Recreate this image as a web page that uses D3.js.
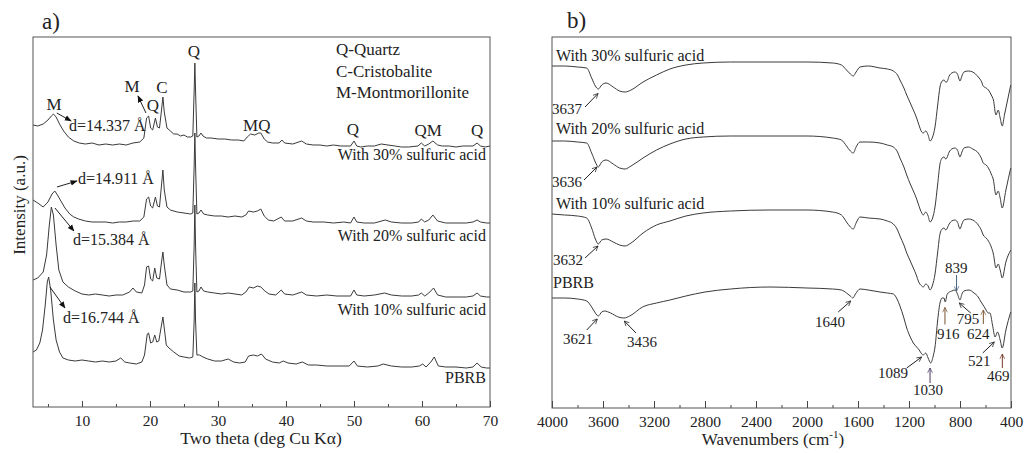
<!DOCTYPE html>
<html>
<head>
<meta charset="utf-8">
<script src="https://cdnjs.cloudflare.com/ajax/libs/d3/7.8.5/d3.min.js"></script>
<style>
  body { margin: 0; background: #fff; }
  text { font-family: "Liberation Serif", "Times New Roman", serif; fill: #222; }
</style>
</head>
<body>
<svg id="chart" width="1025" height="453"></svg>
<script>
// ---------- XRD data (two theta, intensity a.u., stacked) ----------
const xrd30 = [[2.8,28.2],[3.5,28.1],[4.3,28.3],[5.0,28.7],[5.5,29.1],[5.8,29.3],[6.2,29.0],[6.7,28.3],[7.3,27.6],[8.0,27.0],[8.8,26.6],[9.6,26.4],[10.5,26.3],[11.5,26.4],[12.5,26.2],[13.5,26.3],[14.5,26.2],[15.5,26.3],[16.5,26.2],[17.5,26.4],[18.5,26.5],[19.1,26.9],[19.5,28.9],[19.8,29.1],[20.1,27.9],[20.4,27.7],[20.8,28.9],[21.1,28.0],[21.4,27.9],[21.7,29.7],[21.9,31.0],[22.1,29.5],[22.5,27.9],[23.0,27.6],[23.5,27.3],[24.0,27.3],[24.5,27.1],[25.0,27.2],[25.5,27.0],[26.0,27.0],[26.3,27.1],[26.5,31.7],[26.6,34.4],[26.7,31.7],[26.9,27.0],[27.2,27.1],[27.5,27.4],[27.8,27.1],[28.3,26.9],[29,26.9],[30,26.8],[31,26.8],[32,26.7],[33,26.7],[33.8,26.6],[34.3,27.0],[34.8,27.3],[35.4,27.2],[36.0,27.4],[36.3,27.4],[36.8,26.8],[37.3,26.5],[38,26.4],[39,26.4],[39.4,26.7],[39.8,26.4],[41,26.3],[42.3,26.6],[43,26.3],[44,26.2],[45,26.2],[46,26.1],[47,26.2],[48,26.1],[49.5,26.1],[50.0,26.6],[50.4,26.1],[51,26.0],[52,26.1],[53,26.1],[54,26.3],[55,26.2],[56,26.1],[57,26.0],[58,26.0],[59.4,26.1],[59.9,26.4],[60.4,26.1],[61,26.3],[61.6,26.6],[62.3,26.2],[63,26.1],[64,26.1],[65,26.0],[66,26.1],[67.5,26.1],[68.1,26.4],[68.6,26.1],[69.3,26.0],[70,26.1]];
const xrd20 = [[2.8,20.7],[3.5,20.4],[4.3,20.0],[5.0,20.5],[5.6,21.3],[6.0,21.6],[6.4,21.2],[6.9,20.6],[7.5,19.9],[8.2,19.3],[8.8,19.0],[9.5,18.8],[10.5,18.6],[11.5,18.5],[12.5,18.5],[13.5,18.5],[14.5,18.4],[15.5,18.5],[16.5,18.5],[17.5,18.6],[18.5,18.6],[19.1,19.0],[19.5,20.8],[19.8,21.0],[20.1,20.1],[20.4,19.9],[20.8,21.0],[21.1,20.1],[21.4,20.0],[21.7,22.2],[21.9,23.7],[22.1,21.7],[22.5,20.0],[23.0,19.7],[24,19.5],[25,19.4],[26,19.3],[26.3,19.4],[26.5,24.2],[26.6,27.4],[26.7,24.2],[26.9,19.3],[27.2,19.4],[27.5,19.7],[27.9,19.3],[28.5,19.2],[29.5,19.1],[30.5,19.1],[31.5,19.0],[32.5,19.1],[33.5,19.0],[34.1,19.2],[34.5,19.6],[35.2,19.5],[35.8,19.6],[36.3,19.8],[36.8,19.1],[37.4,18.7],[38.2,18.6],[39.3,19.0],[39.8,18.6],[41,18.6],[42.3,18.9],[43,18.6],[44,18.5],[45.5,18.5],[47,18.4],[48.5,18.5],[49.5,18.4],[50,19.0],[50.4,18.5],[51.5,18.4],[53,18.4],[54.6,18.7],[55.5,18.5],[57,18.4],[58.5,18.4],[59.5,18.5],[59.9,18.8],[60.4,18.5],[61,18.7],[61.6,19.2],[62.3,18.6],[63.5,18.4],[65,18.4],[66.5,18.4],[67.5,18.5],[68.1,18.7],[68.6,18.5],[69.5,18.4],[70,18.4]];
const xrd10 = [[2.8,12.7],[3.5,12.9],[4.3,13.5],[4.8,15.2],[5.2,18.2],[5.5,20.0],[5.8,19.2],[6.2,16.2],[6.6,13.7],[7.2,12.5],[8.0,12.0],[9.0,11.6],[10,11.3],[11,11.2],[12,11.3],[13,11.2],[14,11.1],[15,11.2],[16,11.2],[17,11.5],[17.5,11.9],[18,11.5],[18.8,11.4],[19.2,12.2],[19.5,14.0],[19.8,14.1],[20.1,12.8],[20.4,12.6],[20.7,13.9],[21.0,12.9],[21.4,12.8],[21.7,14.5],[21.9,15.5],[22.1,14.2],[22.5,12.2],[23,11.8],[24,11.7],[25,11.5],[26,11.5],[26.3,11.6],[26.5,16.2],[26.6,20.2],[26.7,16.2],[26.9,11.5],[27.2,11.6],[27.5,12.0],[27.9,11.6],[28.5,11.5],[29.5,11.4],[30.5,11.3],[31.5,11.4],[32.5,11.3],[33.5,11.2],[34.1,11.5],[34.6,12.0],[35.2,11.9],[35.8,12.1],[36.3,12.0],[36.9,11.6],[37.5,11.3],[38.5,11.2],[39.3,11.7],[39.8,11.3],[41,11.2],[42.3,11.5],[43,11.2],[44.5,11.1],[46,11.2],[47.5,11.1],[49.5,11.1],[50,11.7],[50.4,11.2],[51.5,11.1],[53,11.2],[54.5,11.4],[55.5,11.2],[57,11.1],[58.5,11.1],[59.5,11.2],[59.9,11.4],[60.4,11.1],[61,11.4],[61.7,11.9],[62.3,11.2],[63.5,11.0],[65,11.0],[66.5,11.0],[67.5,11.1],[68.1,11.4],[68.6,11.1],[69.5,11.0],[70,11.0]];
const xrdPBRB = [[2.8,5.5],[3.3,5.7],[3.8,6.4],[4.2,7.7],[4.6,10.2],[4.9,12.5],[5.1,13.0],[5.4,11.7],[5.8,8.7],[6.2,6.7],[6.7,5.5],[7.2,4.9],[8,4.7],[9,4.6],[10,4.7],[11,4.6],[12,4.5],[13,4.6],[14,4.5],[15,4.6],[15.7,4.9],[16.3,4.5],[17,4.4],[18,4.3],[18.8,4.5],[19.2,5.2],[19.6,7.3],[19.8,7.4],[20.1,6.4],[20.4,6.5],[20.7,7.2],[21.0,6.5],[21.3,6.6],[21.7,8.2],[21.9,9.0],[22.1,7.9],[22.4,6.2],[22.8,5.9],[23.5,5.5],[24.3,5.1],[25,5.0],[25.8,4.9],[26.3,5.0],[26.5,8.7],[26.6,12.4],[26.7,8.7],[26.9,5.2],[27.3,5.2],[27.8,5.0],[28.5,4.8],[29.5,4.6],[30.5,4.6],[31.5,4.8],[32.3,4.5],[33.2,4.4],[34,4.5],[34.5,5.1],[35.2,5.2],[35.8,5.1],[36.4,5.3],[37,4.8],[38,4.5],[39,4.4],[39.6,4.6],[40.3,4.4],[41.5,4.3],[42.4,4.5],[43.3,4.2],[44.5,4.2],[46,4.1],[47.5,4.1],[49.3,4.1],[50,4.6],[50.5,4.1],[52,4.0],[53.5,4.1],[54.3,4.3],[55.5,4.1],[57,4.0],[58.5,4.0],[59.6,4.1],[60.1,4.3],[60.6,4.0],[61.3,4.5],[61.8,5.0],[62.4,4.1],[63.5,4.0],[65,4.0],[66.5,3.9],[67.5,4.0],[68.1,4.4],[68.7,4.0],[69.5,3.9],[70,3.9]];
const xrdSeries = [xrd30, xrd20, xrd10, xrdPBRB];
const xrdNames = ["With 30% sulfuric acid", "With 20% sulfuric acid", "With 10% sulfuric acid", "PBRB"];
const xrdNameLevel = [24.7, 16.6, 9.2, 2.4];
const xrdTicks = [10, 20, 30, 40, 50, 60, 70];
const xrdMinorTicks = [5, 15, 25, 35, 45, 55, 65];
const xrdLegend = ["Q-Quartz", "C-Cristobalite", "M-Montmorillonite"];
// peak letters: [label, two theta, level]
const xrdPeakLabels = [["M",5.88,29.7],["M",17.35,31.5],["Q",20.44,29.6],["C",21.76,31.4],["Q",26.47,35.0],["MQ",35.7,27.6],["Q",49.85,27.2],["QM",60.9,27.1],["Q",68.1,27.1]];
// basal spacing notes: [label, two theta, level]
const xrdSpacings = [["d=14.337 Å",8.09,27.6],["d=14.911 Å",9.41,22.3],["d=15.384 Å",8.68,16.2],["d=16.744 Å",7.21,8.4]];
const xrdArrows = [[6.3,29.4,8.4,28.6],[19.41,29.4,18.24,31.1],[6.32,22.0,9.26,22.6],[6.03,19.9,8.82,17.6],[5.29,12.0,7.5,9.9]];

// ---------- FTIR data (wavenumber, transmittance a.u., stacked) ----------
const ir30 = [[4000,34.2],[3900,34.2],[3800,34.1],[3728,34.0],[3689,33.0],[3660,32.2],[3637,31.9],[3610,32.3],[3576,32.5],[3520,32.1],[3470,31.7],[3427,31.6],[3380,31.8],[3286,32.6],[3180,33.3],[3075,33.9],[2950,34.3],[2815,34.5],[2600,34.6],[2290,34.6],[2000,34.6],[1800,34.5],[1730,34.3],[1690,33.8],[1660,33.4],[1637,33.2],[1615,33.6],[1584,34.1],[1520,34.2],[1427,34.0],[1370,33.9],[1323,33.7],[1290,33.3],[1271,32.8],[1240,32.0],[1218,31.3],[1190,30.5],[1166,29.8],[1140,29.0],[1127,28.5],[1100,27.6],[1088,27.5],[1069,27.7],[1050,27.3],[1035,26.7],[1015,27.1],[996,28.1],[975,30.3],[957,32.1],[940,32.7],[925,32.8],[912,32.6],[904,32.6],[885,33.2],[865,33.5],[840,33.6],[820,33.4],[800,32.7],[785,33.2],[769,33.6],[735,33.7],[700,33.6],[657,33.1],[630,32.6],[618,32.2],[595,32.0],[577,31.8],[555,31.3],[538,30.8],[518,29.3],[500,29.8],[485,29.0],[469,28.2],[450,29.4],[430,30.6],[402,32.3]];
const ir20 = [[4000,26.7],[3900,26.7],[3800,26.6],[3728,26.5],[3689,25.5],[3660,24.6],[3637,24.1],[3610,24.6],[3576,24.8],[3520,24.4],[3470,24.0],[3427,23.9],[3380,24.2],[3286,25.0],[3180,25.8],[3075,26.4],[2950,26.9],[2815,27.1],[2600,27.2],[2290,27.2],[2000,27.2],[1800,27.0],[1730,26.8],[1690,26.2],[1660,25.7],[1637,25.5],[1615,26.1],[1584,26.6],[1520,26.6],[1427,26.5],[1370,26.3],[1323,26.1],[1290,25.6],[1271,25.0],[1240,24.1],[1218,23.3],[1190,22.4],[1166,21.7],[1140,20.9],[1127,20.4],[1100,19.5],[1088,19.3],[1069,19.6],[1050,19.2],[1035,18.6],[1015,19.0],[996,20.1],[975,22.4],[957,24.4],[940,25.0],[925,25.1],[912,24.9],[904,25.0],[885,25.6],[865,25.9],[840,26.0],[820,25.8],[800,25.1],[785,25.6],[769,26.0],[735,26.1],[700,25.9],[657,25.5],[630,24.9],[618,24.5],[595,24.3],[577,24.0],[555,23.4],[538,22.8],[518,21.3],[500,21.7],[485,21.0],[469,20.0],[440,21.8],[402,24.0]];
const ir10 = [[4000,19.4],[3900,19.3],[3800,19.2],[3728,19.0],[3689,18.0],[3660,16.9],[3637,16.4],[3610,16.8],[3576,16.9],[3520,16.6],[3470,16.3],[3427,16.2],[3380,16.5],[3286,17.5],[3180,18.3],[3075,18.7],[2950,19.2],[2815,19.5],[2600,19.7],[2290,19.8],[2000,19.8],[1800,19.6],[1730,19.3],[1690,18.6],[1660,18.1],[1637,17.9],[1615,18.5],[1584,19.1],[1520,19.0],[1427,18.9],[1370,18.7],[1323,18.4],[1290,17.8],[1271,17.2],[1240,16.3],[1218,15.5],[1190,14.7],[1166,14.0],[1140,13.2],[1127,12.7],[1100,12.2],[1088,12.1],[1069,12.4],[1050,12.2],[1035,11.8],[1015,12.3],[996,13.4],[975,15.6],[957,17.4],[940,17.9],[925,18.0],[912,17.8],[904,17.9],[885,18.4],[865,18.7],[840,18.8],[820,18.6],[800,17.9],[785,18.4],[769,18.8],[735,18.9],[700,18.8],[657,18.3],[630,17.7],[618,17.3],[595,17.0],[577,16.7],[555,16.1],[538,15.4],[518,14.0],[500,14.4],[485,13.8],[469,13.0],[440,14.6],[402,15.8]];
const irPBRB = [[4000,11.0],[3900,11.0],[3800,10.9],[3728,10.7],[3689,10.1],[3660,9.5],[3637,9.2],[3610,9.6],[3590,9.7],[3540,9.5],[3480,9.1],[3436,9.0],[3390,9.2],[3290,10.1],[3180,10.5],[3075,10.8],[2950,11.2],[2800,11.6],[2600,11.9],[2290,12.1],[2000,12.0],[1800,11.9],[1730,11.8],[1690,11.5],[1660,11.2],[1640,11.0],[1620,11.4],[1584,11.9],[1520,11.8],[1427,11.6],[1370,11.5],[1323,11.4],[1290,10.8],[1271,10.2],[1240,9.0],[1218,8.0],[1190,7.1],[1166,6.5],[1140,6.1],[1120,5.8],[1100,5.4],[1089,5.3],[1069,5.5],[1050,5.0],[1030,4.5],[1010,5.2],[996,6.1],[975,8.8],[957,10.5],[940,11.0],[925,11.0],[916,10.6],[900,11.4],[865,11.7],[839,11.8],[820,11.4],[800,10.8],[785,11.4],[769,11.7],[730,11.8],[690,11.5],[657,11.1],[635,10.6],[624,10.4],[600,9.9],[577,9.5],[565,9.5],[545,8.3],[525,7.1],[505,7.6],[485,6.8],[469,6.0],[440,7.8],[402,9.6]];
const irSeries = [ir30, ir20, ir10, irPBRB];
const irNameLevel = [34.7, 27.4, 19.9, 12.0];
const irTicks = [4000, 3600, 3200, 2800, 2400, 2000, 1600, 1200, 800, 400];
const irMinorTicks = [3800, 3400, 3000, 2600, 2200, 1800, 1400, 1000, 600];
// band labels: [label, text wavenumber, text level, arrow from w, from level, to w, to level, arrow colour]
const irBands = [
  ["3637", 4000, 29.4, 3741, 30.1, 3639, 31.45, "#222"],
  ["3636", 4000, 22.1, 3749, 22.8, 3647, 24.1, "#222"],
  ["3632", 3992, 14.3, 3741, 15.0, 3639, 16.2, "#222"],
  ["3621", 3914, 6.4, 3728, 7.8, 3645, 8.9, "#222"],
  ["3436", 3412, 6.1, 3341, 7.5, 3433, 8.7, "#222"],
  ["1640", 1937, 8.1, 1755, 9.6, 1657, 10.7, "#222"],
  ["839", 918, 13.5, 827, 13.3, 827, 11.7, "#46627e"],
  ["916", 980, 6.9, 918, 8.35, 918, 10.05, "#7a5230"],
  ["795", 826, 8.4, 716, 9.5, 806, 10.5, "#222"],
  ["624", 745, 6.9, 617, 8.4, 617, 9.8, "#7a5230"],
  ["521", 737, 4.2, 622, 5.5, 531, 6.6, "#222"],
  ["469", 588, 2.7, 468, 4.0, 468, 5.4, "#7a3a2a"],
  ["1089", 1443, 3.0, 1218, 4.0, 1101, 5.1, "#222"],
  ["1030", 1169, 1.3, 1035, 2.5, 1035, 4.0, "#4a3a66"]
];

const svg = d3.select("#chart");
const defs = svg.append("defs");

defs.append("marker")
  .attr("id", "solidHead")
  .attr("viewBox", "0 0 10 10")
  .attr("refX", 9).attr("refY", 5)
  .attr("markerWidth", 7).attr("markerHeight", 7)
  .attr("markerUnits", "userSpaceOnUse")
  .attr("orient", "auto")
  .append("path").attr("d", "M0,1L10,5L0,9Z").attr("fill", "#111");

function openHead(id, colour) {
  defs.append("marker")
    .attr("id", id)
    .attr("viewBox", "0 0 10 10")
    .attr("refX", 9).attr("refY", 5)
    .attr("markerWidth", 6).attr("markerHeight", 6)
    .attr("markerUnits", "userSpaceOnUse")
    .attr("orient", "auto")
    .append("path").attr("d", "M1,1L9,5L1,9")
    .attr("fill", "none").attr("stroke", colour).attr("stroke-width", 1.2);
}

function styleAxis(g) {
  g.select(".domain").remove();
  g.selectAll("line").attr("stroke", "#444");
  g.selectAll("text")
    .attr("font-family", "'Liberation Serif', 'Times New Roman', serif")
    .attr("font-size", 15.5)
    .attr("fill", "#222");
}

// ================= panel a: XRD =================
const xA = d3.scaleLinear().domain([2.8, 70]).range([33, 490]);
const yA = d3.scaleLinear().domain([0, 37]).range([407, 37]);
const gA = svg.append("g");

gA.append("g").attr("transform", "translate(0,407)")
  .call(d3.axisBottom(xA).tickValues(xrdMinorTicks).tickSize(-3).tickFormat(""))
  .call(styleAxis);
gA.append("g").attr("transform", "translate(0,407)")
  .call(d3.axisBottom(xA).tickValues(xrdTicks).tickSize(-6).tickPadding(8))
  .call(styleAxis);

const lineA = d3.line().x(d => xA(d[0])).y(d => yA(d[1]));
gA.selectAll(".xrd")
  .data(xrdSeries)
  .join("path")
  .attr("class", "xrd")
  .attr("d", lineA)
  .attr("fill", "none")
  .attr("stroke", "#3a3a3a")
  .attr("stroke-width", 1);

gA.append("rect")
  .attr("x", 33).attr("y", 37).attr("width", 457).attr("height", 370)
  .attr("fill", "none").attr("stroke", "#555").attr("stroke-width", 1);

gA.selectAll(".xrdName")
  .data(xrdNames)
  .join("text")
  .attr("class", "xrdName")
  .attr("x", xA(69.4))
  .attr("y", (d, i) => yA(xrdNameLevel[i]))
  .attr("text-anchor", "end")
  .attr("font-size", 16)
  .text(d => d);

gA.selectAll(".legend")
  .data(xrdLegend)
  .join("text")
  .attr("class", "legend")
  .attr("x", xA(47.35))
  .attr("y", (d, i) => 55 + i * 21.5)
  .attr("font-size", 17)
  .text(d => d);

gA.selectAll(".peak")
  .data(xrdPeakLabels)
  .join("text")
  .attr("class", "peak")
  .attr("x", d => xA(d[1]))
  .attr("y", d => yA(d[2]))
  .attr("text-anchor", "middle")
  .attr("font-size", 17)
  .text(d => d[0]);

gA.selectAll(".spacing")
  .data(xrdSpacings)
  .join("text")
  .attr("class", "spacing")
  .attr("x", d => xA(d[1]))
  .attr("y", d => yA(d[2]))
  .attr("font-size", 16)
  .text(d => d[0]);

gA.selectAll(".xrdArrow")
  .data(xrdArrows)
  .join("line")
  .attr("class", "xrdArrow")
  .attr("x1", d => xA(d[0])).attr("y1", d => yA(d[1]))
  .attr("x2", d => xA(d[2])).attr("y2", d => yA(d[3]))
  .attr("stroke", "#222").attr("stroke-width", 1)
  .attr("marker-end", "url(#solidHead)");

svg.append("text").attr("x", 42).attr("y", 29).attr("font-size", 23).text("a)");
svg.append("text")
  .attr("transform", "translate(25,205) rotate(-90)")
  .attr("text-anchor", "middle")
  .attr("font-size", 17)
  .text("Intensity (a.u.)");
svg.append("text")
  .attr("x", 261).attr("y", 444)
  .attr("text-anchor", "middle")
  .attr("font-size", 17.5)
  .text("Two theta (deg Cu Kα)");

// ================= panel b: FTIR =================
const xB = d3.scaleLinear().domain([4000, 400]).range([552, 1011]);
const yB = d3.scaleLinear().domain([0, 37.1]).range([408, 37]);
const gB = svg.append("g");

gB.append("g").attr("transform", "translate(0,408)")
  .call(d3.axisBottom(xB).tickValues(irMinorTicks).tickSize(-3).tickFormat(""))
  .call(styleAxis);
gB.append("g").attr("transform", "translate(0,408)")
  .call(d3.axisBottom(xB).tickValues(irTicks).tickSize(-7).tickPadding(7.5).tickFormat(d3.format("d")))
  .call(styleAxis);

const lineB = d3.line().curve(d3.curveMonotoneX).x(d => xB(d[0])).y(d => yB(d[1]));
gB.selectAll(".ir")
  .data(irSeries)
  .join("path")
  .attr("class", "ir")
  .attr("d", lineB)
  .attr("fill", "none")
  .attr("stroke", "#3a3a3a")
  .attr("stroke-width", 1);

gB.append("rect")
  .attr("x", 552).attr("y", 37).attr("width", 459).attr("height", 371)
  .attr("fill", "none").attr("stroke", "#555").attr("stroke-width", 1);

gB.selectAll(".irName")
  .data(xrdNames)
  .join("text")
  .attr("class", "irName")
  .attr("x", (d, i) => xB(i === 3 ? 3992 : 3969))
  .attr("y", (d, i) => yB(irNameLevel[i]))
  .attr("font-size", 16)
  .text(d => d);

irBands.forEach((b, i) => {
  openHead("open" + i, b[7]);
  gB.append("line")
    .attr("x1", xB(b[3])).attr("y1", yB(b[4]))
    .attr("x2", xB(b[5])).attr("y2", yB(b[6]))
    .attr("stroke", b[7]).attr("stroke-width", 1)
    .attr("marker-end", "url(#open" + i + ")");
  gB.append("text")
    .attr("x", xB(b[1])).attr("y", yB(b[2]))
    .attr("font-size", 15)
    .text(b[0]);
});

svg.append("text").attr("x", 567).attr("y", 28).attr("font-size", 23).text("b)");
const xt = svg.append("text")
  .attr("x", 773).attr("y", 444.5)
  .attr("text-anchor", "middle")
  .attr("font-size", 17);
xt.append("tspan").text("Wavenumbers (cm");
xt.append("tspan").attr("dy", -7).attr("font-size", 11).text("-1");
xt.append("tspan").attr("dy", 7).text(")");
</script>
</body>
</html>
